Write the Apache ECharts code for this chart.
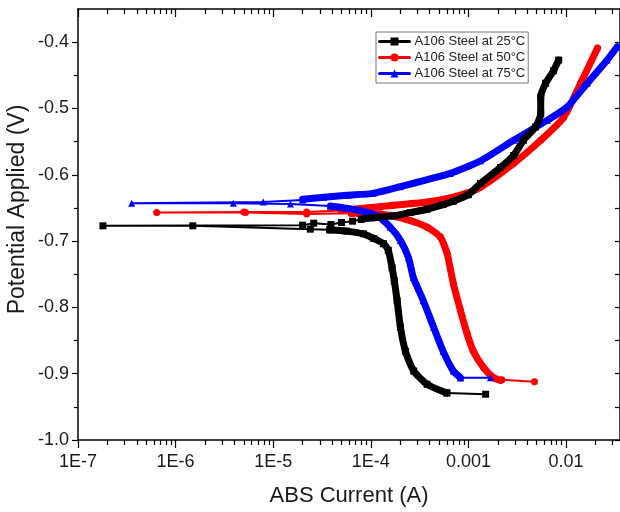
<!DOCTYPE html>
<html>
<head>
<meta charset="utf-8">
<script src="https://cdn.jsdelivr.net/npm/echarts@6/dist/echarts.min.js"></script>
<style>
html,body{margin:0;padding:0;background:#fff;}
#chart{width:620px;height:512px;}
</style>
</head>
<body>
<div id="chart"></div>
<script>
// ---- Data: [current (A), potential (V)] ----
const seriesNames = ['A106 Steel at 25°C', 'A106 Steel at 50°C', 'A106 Steel at 75°C'];

const black25Tail = [[1.5e-3,-0.931],[6.0e-4,-0.929]];
const black25Cathodic = [[6.0e-4,-0.929],[3.77e-4,-0.916],[2.75e-4,-0.896],[2.26e-4,-0.866],[2.01e-4,-0.830],[1.86e-4,-0.790],[1.74e-4,-0.760],[1.65e-4,-0.740],[1.51e-4,-0.714],[1.35e-4,-0.704],[1.07e-4,-0.696],[8.4e-5,-0.689],[5.6e-5,-0.685],[3.8e-5,-0.683]];
const black25Corr = [[3.8e-5,-0.683],[2.4e-5,-0.682],[1.5e-6,-0.677],[1.8e-7,-0.677],[2.0e-5,-0.676],[2.6e-5,-0.673],[3.9e-5,-0.675],[5.0e-5,-0.672],[6.5e-5,-0.670],[8.0e-5,-0.667]];
const black25Anodic = [[8.0e-5,-0.667],[1.0e-4,-0.665],[1.71e-4,-0.662],[2.54e-4,-0.657],[3.77e-4,-0.652],[5.5e-4,-0.645],[7.0e-4,-0.640],[1.0e-3,-0.630],[1.33e-3,-0.613],[2.13e-3,-0.589],[2.9e-3,-0.571],[3.66e-3,-0.548],[4.86e-3,-0.528],[5.5e-3,-0.508],[5.5e-3,-0.483],[6.17e-3,-0.462],[7.45e-3,-0.443],[8.4e-3,-0.427]];

const red50Tail = [[4.75e-3,-0.912],[2.2e-3,-0.909]];
const red50Cathodic = [[2.13e-3,-0.910],[1.80e-3,-0.906],[1.43e-3,-0.891],[1.12e-3,-0.866],[9.7e-4,-0.840],[8.3e-4,-0.805],[7.0e-4,-0.764],[6.05e-4,-0.719],[5.16e-4,-0.694],[3.77e-4,-0.679],[2.54e-4,-0.669],[1.25e-4,-0.659],[6.3e-5,-0.658]];
const red50Corr = [[6.3e-5,-0.658],[2.2e-5,-0.659],[5.2e-6,-0.657],[6.4e-7,-0.657],[5.0e-6,-0.656],[2.2e-5,-0.656],[5.0e-5,-0.654]];
const red50Anodic = [[5.0e-5,-0.654],[7.8e-5,-0.651],[1.7e-4,-0.646],[3.77e-4,-0.641],[6.5e-4,-0.635],[1.0e-3,-0.627],[1.33e-3,-0.619],[2.9e-3,-0.583],[5.5e-3,-0.548],[9.4e-3,-0.514],[1.41e-2,-0.462],[2.1e-2,-0.409]];

const blue75Tail = [[1.68e-3,-0.906],[8.3e-4,-0.906]];
const blue75Cathodic = [[8.3e-4,-0.906],[7.0e-4,-0.896],[5.5e-4,-0.866],[4.4e-4,-0.830],[3.45e-4,-0.790],[2.73e-4,-0.755],[2.43e-4,-0.725],[2.01e-4,-0.699],[1.58e-4,-0.679],[1.16e-4,-0.662],[7.8e-5,-0.654],[3.85e-5,-0.647]];
const blue75Corr = [[3.85e-5,-0.647],[1.5e-5,-0.644],[3.9e-6,-0.643],[3.55e-7,-0.643],[7.9e-6,-0.641],[2.0e-5,-0.638]];
const blue75Anodic = [[2.0e-5,-0.637],[3.3e-5,-0.634],[5.7e-5,-0.631],[1.06e-4,-0.628],[2.0e-4,-0.618],[6.5e-4,-0.598],[1.33e-3,-0.579],[2.9e-3,-0.548],[6.4e-3,-0.518],[1.02e-2,-0.498],[1.65e-2,-0.462],[2.64e-2,-0.427],[3.34e-2,-0.407]];

const xTickValues = [1e-7, 1e-6, 1e-5, 1e-4, 1e-3, 1e-2];
const xTickLabels = ['1E-7', '1E-6', '1E-5', '1E-4', '0.001', '0.01'];
const yTickValues = [-1.0, -0.9, -0.8, -0.7, -0.6, -0.5, -0.4];
const yTickLabels = ['-1.0', '-0.9', '-0.8', '-0.7', '-0.6', '-0.5', '-0.4'];
const yMinorValues = [-0.95, -0.85, -0.75, -0.65, -0.55, -0.45];
const xMinorMultipliers = [2, 3, 4, 5, 6, 7, 8, 9];

// ---- Build ----
const X_MIN = 1e-7, X_MAX = 0.0357, Y_MIN = -1.0, Y_MAX = -0.35;
const xMinorValues = [];
xTickValues.forEach(d => xMinorMultipliers.forEach(m => { const v = d * m; if (v <= X_MAX) xMinorValues.push(v); }));

const FONT = 'Arial, "Liberation Sans", sans-serif';
const axisLineStyle = { show: true, lineStyle: { color: '#000', width: 1.5 } };

function xAxisDef(position, ticks, len, inside, showLine, labels) {
  return {
    type: 'log', logBase: 10, min: X_MIN, max: X_MAX, position: position, gridIndex: 0,
    axisLine: showLine ? axisLineStyle : { show: false },
    axisTick: { show: true, inside: inside, length: len, customValues: ticks, lineStyle: { color: '#000', width: 1.2 } },
    axisLabel: labels ? {
      show: true, customValues: xTickValues, margin: 13, color: '#1a1a1a', fontSize: 18, fontFamily: FONT,
      formatter: v => { const i = xTickValues.findIndex(t => Math.abs(Math.log10(t) - Math.log10(v)) < 1e-6); return i >= 0 ? xTickLabels[i] : ''; }
    } : { show: false },
    splitLine: { show: false }, minorTick: { show: false }
  };
}
function yAxisDef(position, ticks, len, inside, showLine, labels) {
  return {
    type: 'value', min: Y_MIN, max: Y_MAX, position: position, gridIndex: 0,
    axisLine: showLine ? axisLineStyle : { show: false },
    axisTick: { show: true, inside: inside, length: len, customValues: ticks, lineStyle: { color: '#000', width: 1.2 } },
    axisLabel: labels ? {
      show: true, customValues: yTickValues, margin: 9, color: '#1a1a1a', fontSize: 18, fontFamily: FONT,
      formatter: v => { const i = yTickValues.findIndex(t => Math.abs(t - v) < 1e-6); return i >= 0 ? yTickLabels[i] : ''; }
    } : { show: false },
    splitLine: { show: false }, minorTick: { show: false }
  };
}

const xAxes = [
  Object.assign(xAxisDef('bottom', xTickValues, 8, false, true, true), {
    name: 'ABS Current (A)', nameLocation: 'middle', nameGap: 45, nameMoveOverlap: false,
    nameTextStyle: { fontSize: 22, color: '#1a1a1a', fontFamily: FONT }
  }),
  xAxisDef('bottom', xMinorValues, 5, false, false, false),
  xAxisDef('top', xTickValues, 8, true, true, false),
  xAxisDef('top', xMinorValues, 5, true, false, false)
];
const yAxes = [
  Object.assign(yAxisDef('left', yTickValues, 6, false, true, true), {
    name: 'Potential Applied (V)', nameLocation: 'middle', nameGap: 49, nameRotate: 90, nameMoveOverlap: false,
    nameTextStyle: { fontSize: 23, color: '#1a1a1a', fontFamily: FONT, padding: [0, 0, 0, 30] }
  }),
  yAxisDef('left', yMinorValues, 4, false, false, false),
  yAxisDef('right', yTickValues.concat(yMinorValues), 5, true, true, false)
];

function mk(name, color, symbol, data, width, z, smooth) {
  return {
    name: name, type: 'line', xAxisIndex: 0, yAxisIndex: 0, data: data,
    symbol: symbol, symbolSize: 7, showSymbol: true, clip: true, z: z, smooth: smooth,
    lineStyle: { color: color, width: width, join: 'round', cap: 'round' },
    itemStyle: { color: color }, animation: false
  };
}
const C = ['#000000', '#ff0000', '#0000ff'];
const S = ['rect', 'circle', 'triangle'];
const groups = [
  [red50Tail, red50Cathodic, red50Corr, red50Anodic, 1, 2],
  [blue75Tail, blue75Cathodic, blue75Corr, blue75Anodic, 2, 3],
  [black25Tail, black25Cathodic, black25Corr, black25Anodic, 0, 4]
];
const series = [];
groups.forEach(g => {
  const k = g[4], z = g[5];
  series.push(mk(seriesNames[k], C[k], S[k], g[0], 2, z, false));
  series.push(mk(seriesNames[k], C[k], S[k], g[2], 2, z, false));
  series.push(mk(seriesNames[k], C[k], S[k], g[1], 7, z, 0.2));
  series.push(mk(seriesNames[k], C[k], S[k], g[3], 7, z, 0.2));
});

const chart = echarts.init(document.getElementById('chart'), null, { renderer: 'canvas' });
chart.setOption({
  backgroundColor: '#fff',
  animation: false,
  grid: { left: 78, right: 0, top: 9, bottom: 72, containLabel: false, outerBoundsMode: 'none' },
  xAxis: xAxes,
  yAxis: yAxes,
  legend: {
    data: seriesNames, orient: 'vertical', left: 376, top: 32,
    itemWidth: 30, itemHeight: 10, itemGap: 3, padding: [3, 3, 3, 2],
    borderColor: '#777', borderWidth: 1, selectedMode: false,
    textStyle: { fontSize: 13, color: '#222', fontFamily: FONT },
    lineStyle: { width: 3 }
  },
  series: series
});
</script>
</body>
</html>
